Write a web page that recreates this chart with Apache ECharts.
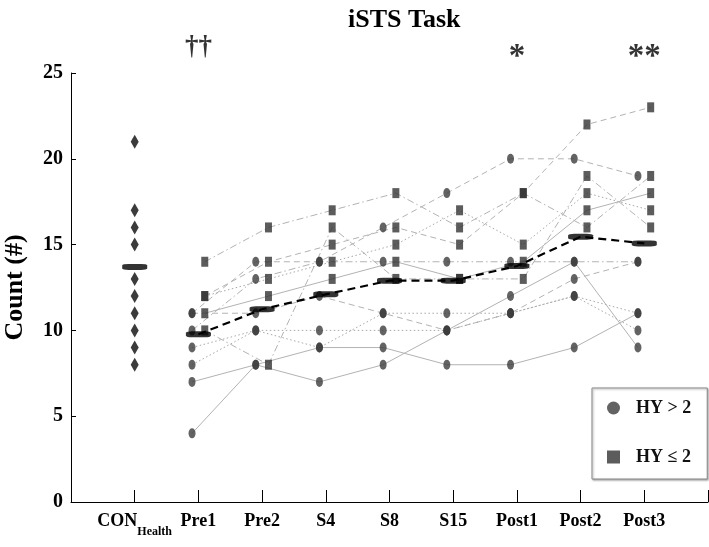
<!DOCTYPE html>
<html>
<head>
<meta charset="utf-8">
<script src="https://cdn.jsdelivr.net/npm/echarts@6/dist/echarts.min.js"></script>
<style>html,body{margin:0;padding:0;background:#fff}#c{width:709px;height:547px}</style>
</head>
<body>
<div id="c"></div>
<script>
// ---------- data ----------
const categories = ['CON', 'Pre1', 'Pre2', 'S4', 'S8', 'S15', 'Post1', 'Post2', 'Post3'];
const conHealthy = [21, 17, 16, 15, 13, 12, 11, 10, 9, 8];
const conMean = 13.7;
const patientMeans = [9.77, 11.23, 12.1, 12.9, 12.9, 13.75, 15.46, 15.07];
// HY > 2 subjects, values at Pre1..Post3
const hyHighA = [11, 14, 14, 16, 18, 20, 20, 19];
const hyHighB = [10, 13, 14, 14, 14, 14, 14, 14];
const hyHighC = [11, 11, 12, 11, 10, 11, 13, 14];
const hyHighD = [9, 10, 10, 10, 10, 11, 12, 10];
const hyHighE = [8, 10, 9, 11, 11, 11, 12, 11];
const hyHighF = [4, 8, 9, 9, 8, 8, 9, 11];
const hyHighG = [7, 8, 7, 8, 10, 12, 14, 9];
// HY <= 2 subjects, values at Pre1..Post3
const hyLowH = [12, 14, 15, 16, 15, 18, 22, 23];
const hyLowI = [10, 8, 16, 13, 13, 13, 19, 16];
const hyLowJ = [12, 13, 14, 15, 17, 15, 18, 17];
const hyLowK = [11, 12, 13, 14, 13, 14, 17, 18];
const hyLowL = [14, 16, 17, 18, 16, 18, 16, 19];
const sigLabels = ['††', '*', '**'];
const sigCats = ['Pre1', 'Post1', 'Post3'];
const yTicks = [0, 5, 10, 15, 20, 25];

// ---------- styles ----------
const dashTypes = { solid: 'solid', dashed: [6, 4], dotted: [1.5, 2.5], dashdot: [7, 3, 1.5, 3] };
const highSubjects = [hyHighA, hyHighB, hyHighC, hyHighD, hyHighE, hyHighF, hyHighG];
const highStyles = ['dashed', 'dashdot', 'dashed', 'dotted', 'dotted', 'solid', 'solid'];
const lowSubjects = [hyLowH, hyLowI, hyLowJ, hyLowK, hyLowL];
const lowStyles = ['dashed', 'dashdot', 'dotted', 'solid', 'dashdot'];
const sigStyle = { '††': { y: 26.5, size: 27 }, '*': { y: 25.9, size: 33 }, '**': { y: 25.9, size: 33 } };
const FONT = '"Liberation Serif", "Times New Roman", serif';
const OFF = 0.1;

const pos = (cat) => categories.indexOf(cat) + 1;
const series = [];

function subjectLine(vals, off, style) {
  return {
    type: 'line', silent: true, symbol: 'none', z: 1,
    data: vals.map((v, i) => [i + 2 + off, v]),
    lineStyle: { color: style === 'dotted' ? '#a8a8a8' : '#b3b3b3', width: 1, type: dashTypes[style] }
  };
}
highSubjects.forEach((s, k) => series.push(subjectLine(s, -OFF, highStyles[k])));
lowSubjects.forEach((s, k) => series.push(subjectLine(s, OFF, lowStyles[k])));

const highPts = [], lowPts = [];
highSubjects.forEach(s => s.forEach((v, i) => highPts.push([i + 2 - OFF, v])));
lowSubjects.forEach(s => s.forEach((v, i) => lowPts.push([i + 2 + OFF, v])));

series.push({ name: 'HY > 2', type: 'scatter', z: 3, symbol: 'circle', symbolSize: [7, 10],
  itemStyle: { color: '#3c3c3c' }, data: highPts });
series.push({ name: 'HY ≤ 2', type: 'scatter', z: 3, symbol: 'rect', symbolSize: [7, 10],
  itemStyle: { color: '#333333' }, data: lowPts });
series.push({ name: 'CON', type: 'scatter', z: 3, symbol: 'diamond', symbolSize: [8, 14],
  itemStyle: { color: '#0a0a0a' }, data: conHealthy.map(v => [pos('CON'), v]) });
series.push({ name: 'mean', type: 'line', z: 4, symbol: 'none',
  lineStyle: { color: '#000', width: 2.2, type: [8, 5] },
  data: patientMeans.map((v, i) => [i + 2, v]) });
series.push({ name: 'meanBar', type: 'scatter', z: 5, symbol: 'roundRect', symbolSize: [25, 6],
  itemStyle: { color: '#000' },
  data: [[pos('CON'), conMean]].concat(patientMeans.map((v, i) => [i + 2, v])) });
series.push({ name: 'sig', type: 'scatter', z: 6, symbolSize: 0, clip: false, silent: true,
  data: sigLabels.map((t, i) => ({
    value: [pos(sigCats[i]), sigStyle[t].y, t],
    label: { fontSize: sigStyle[t].size }
  })),
  label: { show: true, position: 'inside', formatter: p => p.data.value[2],
    fontFamily: FONT, fontWeight: 'bold', fontSize: 27, color: '#000' } });

const chart = echarts.init(document.getElementById('c'), null, { renderer: 'canvas' });
chart.setOption({
  animation: false,
  backgroundColor: '#fff',
  title: { text: 'iSTS Task', left: 343, top: 2,
    textStyle: { fontFamily: FONT, fontWeight: 'bold', fontSize: 26, color: '#000' } },
  legend: {
    data: [{ name: 'HY > 2', icon: 'circle' }, { name: 'HY ≤ 2', icon: 'rect' }],
    orient: 'vertical', left: 592, top: 388, itemWidth: 13, itemHeight: 13, itemGap: 31,
    padding: [11, 16, 13, 15], backgroundColor: '#fff', borderColor: '#8a8a8a', borderWidth: 1,
    shadowColor: 'rgba(0,0,0,0.35)', shadowBlur: 2, shadowOffsetX: 1, shadowOffsetY: 1,
    textStyle: { fontFamily: FONT, fontWeight: 'bold', fontSize: 18, color: '#111', padding: [0, 0, 0, 11] },
    selectedMode: false
  },
  grid: { left: 71, right: 1, top: 73, bottom: 45, containLabel: false, outerBoundsMode: 'none' },
  xAxis: {
    type: 'value', min: 0, max: 10, interval: 1,
    axisLine: { lineStyle: { color: '#000', width: 1 } },
    axisTick: { inside: true, length: 12, lineStyle: { color: '#000' } },
    splitLine: { show: false },
    axisLabel: {
      margin: 9, color: '#000',
      formatter: v => (v >= 1 && v <= 9) ? (v === 1 ? '{m|CON}{s|Health}' : '{m|' + categories[v - 1] + '}') : '',
      rich: {
        m: { fontFamily: FONT, fontWeight: 'bold', fontSize: 18, color: '#000', lineHeight: 20 },
        s: { fontFamily: FONT, fontWeight: 'bold', fontSize: 12, color: '#000', padding: [22, 0, 0, 0], lineHeight: 14 }
      }
    }
  },
  yAxis: {
    type: 'value', min: 0, max: 25, interval: 5,
    name: 'Count (#)', nameLocation: 'middle', nameGap: 43, nameRotate: 90,
    nameTextStyle: { fontFamily: FONT, fontWeight: 'bold', fontSize: 26, color: '#000' },
    axisLine: { show: true, lineStyle: { color: '#000', width: 1 } },
    axisTick: { show: true, inside: true, length: 5, lineStyle: { color: '#000' } },
    splitLine: { show: false },
    axisLabel: { margin: 8, fontFamily: FONT, fontWeight: 'bold', fontSize: 20, color: '#000',
      formatter: v => yTicks.includes(v) ? String(v) : '' }
  },
  series: series
});
</script>
</body>
</html>
